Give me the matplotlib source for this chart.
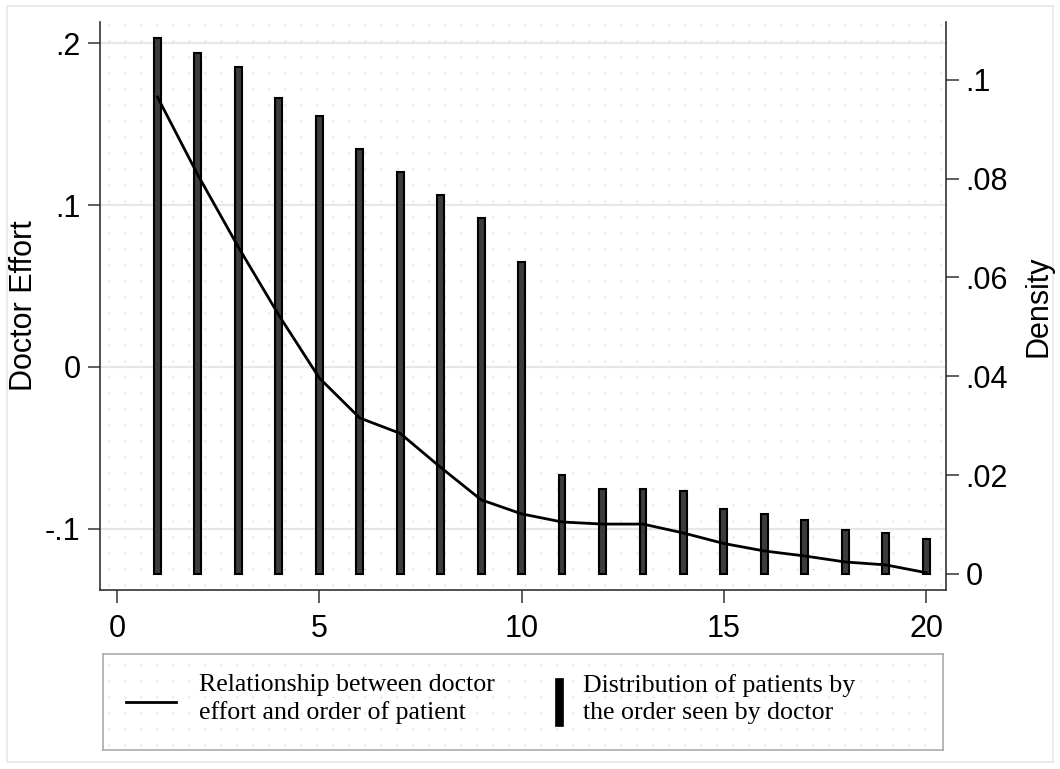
import numpy as np
import matplotlib
matplotlib.use("Agg")
import matplotlib.pyplot as plt
from matplotlib.patches import Rectangle
from matplotlib.lines import Line2D
import matplotlib.transforms as mtransforms

# ---- data ----
order = [1, 2, 3, 4, 5, 6, 7, 8, 9, 10, 11, 12, 13, 14, 15, 16, 17, 18, 19, 20]
effort = [0.1667, 0.1185, 0.074, 0.032, -0.0068, -0.0315, -0.041, -0.062, -0.082, -0.0907,
          -0.0957, -0.097, -0.097, -0.1025, -0.109, -0.1136, -0.1167, -0.1204, -0.1222, -0.127]
density = [0.1085, 0.1055, 0.1026, 0.0964, 0.0927, 0.086, 0.0814, 0.0767, 0.0721, 0.0632,
           0.020, 0.0172, 0.0172, 0.0168, 0.0132, 0.0121, 0.0109, 0.0089, 0.0083, 0.0071]
x_ticks = [0, 5, 10, 15, 20]
left_ticks = [-0.1, 0.0, 0.1, 0.2]
left_labels = ["-.1", "0", ".1", ".2"]
right_ticks = [0.0, 0.02, 0.04, 0.06, 0.08, 0.1]
right_labels = ["0", ".02", ".04", ".06", ".08", ".1"]
legend_labels = ["Relationship between doctor\neffort and order of patient",
                 "Distribution of patients by\nthe order seen by doctor"]

W, H = 1060, 769
plt.rcParams['font.family'] = ['Liberation Sans', 'DejaVu Sans']
fig = plt.figure(figsize=(W / 100, H / 100), dpi=100)
fig.patch.set_facecolor('white')

def fr(x0, y0, x1, y1):
    return [x0 / W, 1 - y1 / H, (x1 - x0) / W, (y1 - y0) / H]

# background with dot pattern and outer frame
bg = fig.add_axes([0, 0, 1, 1], zorder=0)
bg.set_xlim(0, W)
bg.set_ylim(H, 0)
bg.axis('off')
bg.add_patch(Rectangle((7, 6), W - 14, H - 13, fill=False, edgecolor='#e6e6e6', lw=1.2))
gx = np.arange(108.7, 946, 16)
gy = np.arange(25, 590, 16)
XX, YY = np.meshgrid(gx, gy)
bg.plot(XX.ravel(), YY.ravel(), ls='none', marker='o', ms=1.6, mec='none', mfc='#e4e4e4')
lx = np.arange(108.7, 940, 16)
ly = np.arange(665, 748, 16)
LX, LY = np.meshgrid(lx, ly)
bg.plot(LX.ravel(), LY.ravel(), ls='none', marker='o', ms=1.6, mec='none', mfc='#e4e4e4')

pos = fr(100, 22, 946, 590)
ax2 = fig.add_axes(pos, zorder=1)
ax = fig.add_axes(pos, zorder=2, sharex=ax2)
for a in (ax, ax2):
    a.patch.set_visible(False)

ax.set_xlim(-0.42, 20.49)
ax.set_ylim(-0.1377, 0.213)
ax2.set_ylim(-0.00324, 0.1117)

# gridlines on left-axis values (behind bars)
blend = mtransforms.blended_transform_factory(ax2.transAxes, ax.transData)
for t in left_ticks:
    ax2.plot([0, 1], [t, t], transform=blend, color='#e6e6e6', lw=1.6, zorder=0)

ax2.bar(order, density, width=0.17, color='#3c3c3c', edgecolor='black', linewidth=1.5, zorder=2)
ax.plot(order, effort, color='black', lw=2.0, zorder=3)

# left axis (ax)
ax.yaxis.tick_left()
ax.set_yticks(left_ticks)
ax.set_yticklabels(left_labels)
ax.tick_params(axis='y', labelsize=22, length=9, width=1.1, pad=5, color='#333333')
ax.tick_params(axis='x', labelsize=22, length=9, width=1.1, pad=8, color='#333333')
ax.set_xticks(x_ticks)
ax.set_xticklabels([str(v) for v in x_ticks])
ax.set_ylabel("Doctor Effort", fontsize=22)
ax.yaxis.set_label_coords((39 - 100) / (946 - 100), 0.5)
for s in ['top', 'right']:
    ax.spines[s].set_visible(False)
for s in ['left', 'bottom']:
    ax.spines[s].set_color('#333333')
    ax.spines[s].set_linewidth(1.2)

# right axis (ax2)
ax2.yaxis.tick_right()
ax2.yaxis.set_label_position('right')
ax2.set_yticks(right_ticks)
ax2.set_yticklabels(right_labels)
ax2.set_ylabel("Density", fontsize=22)
ax2.yaxis.set_label_coords((1024 - 100) / (946 - 100), 0.5)
ax2.tick_params(axis='y', labelsize=22, length=9, width=1.1, pad=5, color='#333333')
ax2.tick_params(axis='x', bottom=False, labelbottom=False)
for s in ['top', 'left', 'bottom']:
    ax2.spines[s].set_visible(False)
ax2.spines['right'].set_color('#333333')
ax2.spines['right'].set_linewidth(1.2)

# legend box
lg = fig.add_axes(fr(103, 654, 943, 750), zorder=1)
lg.set_xlim(103, 943)
lg.set_ylim(750, 654)
lg.patch.set_visible(False)
lg.set_xticks([])
lg.set_yticks([])
for s in lg.spines.values():
    s.set_color('#aaaaaa')
    s.set_linewidth(1.2)
lg.add_line(Line2D([126, 176], [702, 702], color='black', lw=2.0))
lg.add_patch(Rectangle((555, 678), 8, 48, facecolor='black', edgecolor='black', lw=0.5))
serif = ['Liberation Serif', 'DejaVu Serif']
lg.text(199, 699, legend_labels[0], fontsize=18.6, family=serif,
        va='center', ha='left', linespacing=1.3)
lg.text(583, 699, legend_labels[1], fontsize=18.6, family=serif,
        va='center', ha='left', linespacing=1.3)

fig.savefig("out.png", dpi=100)
